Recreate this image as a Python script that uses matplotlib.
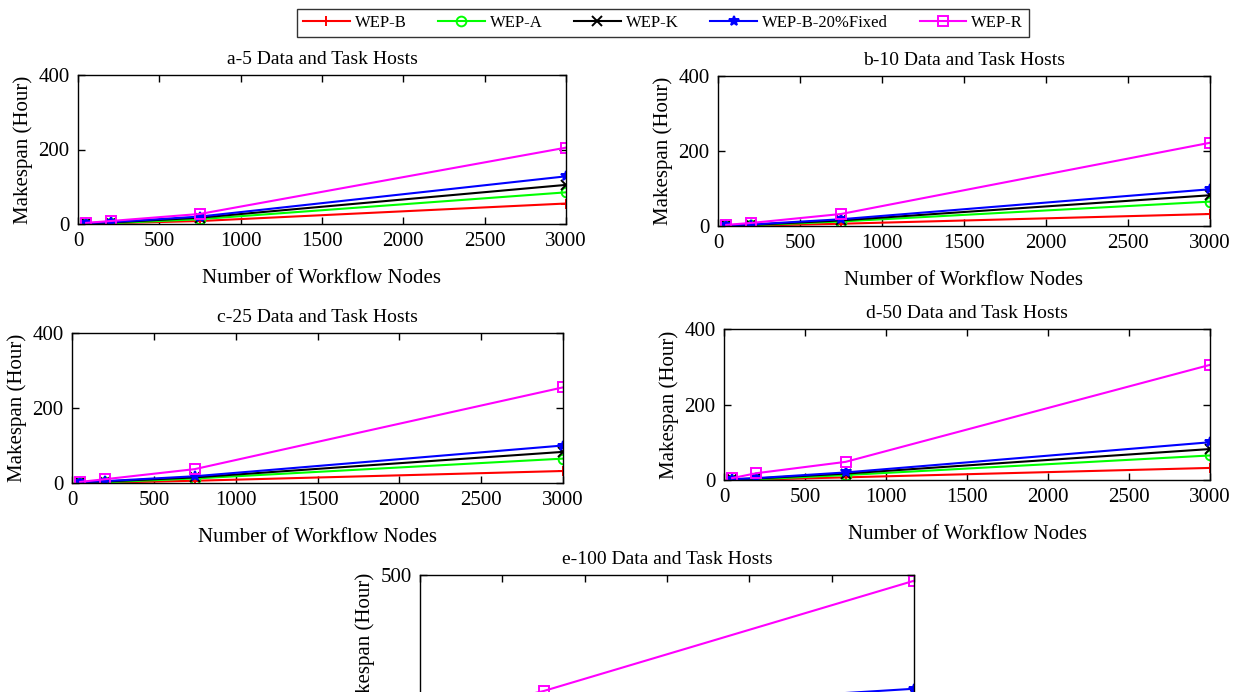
import matplotlib
matplotlib.use("Agg")
import matplotlib.pyplot as plt
from matplotlib.lines import Line2D

plt.rcParams['font.family'] = ['Liberation Serif', 'DejaVu Serif']

nodes = [50, 200, 750, 3000]

series_names = ["WEP-B", "WEP-A", "WEP-K", "WEP-B-20%Fixed", "WEP-R"]
series_colors = ["#ff0000", "#00ff00", "#000000", "#0000ff", "#ff00ff"]
series_markers = ["+", "o", "x", "*", "s"]

titles = ["a-5 Data and Task Hosts", "b-10 Data and Task Hosts",
          "c-25 Data and Task Hosts", "d-50 Data and Task Hosts",
          "e-100 Data and Task Hosts"]

# values per panel, order: WEP-B, WEP-A, WEP-K, WEP-B-20%Fixed, WEP-R
a_wep_b = [1, 2, 8, 55]
a_wep_a = [1, 2, 13, 85]
a_wep_k = [2, 4, 17, 105]
a_wep_bf = [2, 5, 20, 128]
a_wep_r = [3, 8, 27, 205]

b_wep_b = [1, 1, 6, 32]
b_wep_a = [1, 2, 12, 65]
b_wep_k = [2, 3, 15, 82]
b_wep_bf = [2, 4, 18, 98]
b_wep_r = [3, 8, 32, 222]

c_wep_b = [1, 1, 6, 32]
c_wep_a = [1, 2, 12, 65]
c_wep_k = [2, 4, 15, 83]
c_wep_bf = [2, 5, 18, 100]
c_wep_r = [3, 10, 37, 255]

d_wep_b = [1, 1, 7, 32]
d_wep_a = [1, 2, 13, 65]
d_wep_k = [2, 4, 17, 82]
d_wep_bf = [2, 5, 20, 100]
d_wep_r = [5, 18, 48, 305]

e_wep_b = [1, 2, 8, 35]
e_wep_a = [2, 4, 15, 70]
e_wep_k = [2, 6, 20, 90]
e_wep_bf = [3, 8, 25, 105]
e_wep_r = [6, 25, 97, 480]

panels = [
    [a_wep_b, a_wep_a, a_wep_k, a_wep_bf, a_wep_r],
    [b_wep_b, b_wep_a, b_wep_k, b_wep_bf, b_wep_r],
    [c_wep_b, c_wep_a, c_wep_k, c_wep_bf, c_wep_r],
    [d_wep_b, d_wep_a, d_wep_k, d_wep_bf, d_wep_r],
    [e_wep_b, e_wep_a, e_wep_k, e_wep_bf, e_wep_r],
]
ymax = [400, 400, 400, 400, 500]
yticks = [[0, 200, 400]] * 4 + [[0, 500]]
xticks = [0, 500, 1000, 1500, 2000, 2500, 3000]

W, H = 1244, 692
fig = plt.figure(figsize=(W / 100, H / 100), dpi=100)

# pixel boxes: left, right, top, bottom
boxes = [(78, 566, 75, 224), (718, 1210, 76, 226),
         (72, 563, 333, 483), (724, 1210, 329, 480),
         (420, 914, 575, 719)]

for i, (l, r, t, b) in enumerate(boxes):
    ax = fig.add_axes([l / W, 1 - b / H, (r - l) / W, (b - t) / H])
    for vals, c, m in zip(panels[i], series_colors, series_markers):
        mfc = 'none' if m in ('o', 's') else c
        ax.plot(nodes, vals, color=c, marker=m, markersize=7, markerfacecolor=mfc,
                markeredgecolor=c, markeredgewidth=1.4, linewidth=1.5)
    ax.set_xlim(0, 3000)
    ax.set_ylim(0, ymax[i])
    ax.set_xticks(xticks)
    ax.set_yticks(yticks[i])
    ax.tick_params(direction='in', top=True, right=True, length=5, width=1,
                   labelsize=15, pad=6)
    for s in ax.spines.values():
        s.set_linewidth(1.0)
    ax.set_title(titles[i], fontsize=14, pad=8)
    ax.set_ylabel("Makespan (Hour)", fontsize=15, labelpad=4)
    if i < 4:
        ax.set_xlabel("Number of Workflow Nodes", fontsize=15, labelpad=13)
    else:
        # the bottom of this panel lies beyond the figure edge, as in the reference
        ax.tick_params(labelbottom=False)

handles = [Line2D([], [], color=c, marker=m, markersize=7,
                  markerfacecolor=('none' if m in ('o', 's') else c),
                  markeredgecolor=c, markeredgewidth=1.4, linewidth=1.5)
           for c, m in zip(series_colors, series_markers)]
leg = fig.legend(handles, series_names, loc='center', ncol=5,
                 bbox_to_anchor=(663 / W, 1 - 23 / H), fontsize=12,
                 frameon=True, fancybox=False, edgecolor='black',
                 handlelength=2.8, columnspacing=1.9, handletextpad=0.3,
                 borderpad=0.35)
leg.get_frame().set_linewidth(1.0)

fig.savefig("out.png", dpi=100)
